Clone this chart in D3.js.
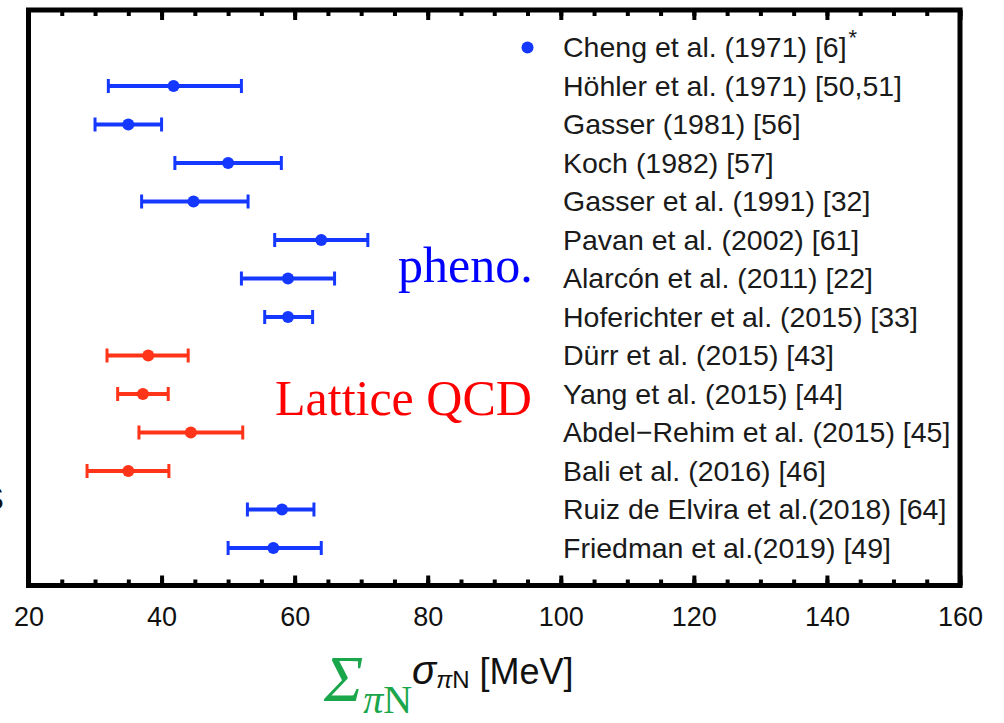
<!DOCTYPE html>
<html>
<head>
<meta charset="utf-8">
<script src="https://cdn.jsdelivr.net/npm/d3@7"></script>
<style>
  html, body { margin: 0; padding: 0; background: #fff; }
  svg { display: block; }
</style>
</head>
<body>
<svg id="chart" width="1004" height="723"></svg>
<script>
// Pion-nucleon sigma term determinations (MeV)
const studies = [
  "Cheng et al. (1971) [6]",
  "Höhler et al. (1971) [50,51]",
  "Gasser (1981) [56]",
  "Koch (1982) [57]",
  "Gasser et al. (1991) [32]",
  "Pavan et al. (2002) [61]",
  "Alarcón et al. (2011) [22]",
  "Hoferichter et al. (2015) [33]",
  "Dürr et al. (2015) [43]",
  "Yang et al. (2015) [44]",
  "Abdel\u2212Rehim et al. (2015) [45]",
  "Bali et al. (2016) [46]",
  "Ruiz de Elvira et al.(2018) [64]",
  "Friedman et al.(2019) [49]"
];
const starred = [true, false, false, false, false, false, false, false, false, false, false, false, false, false];
const centralValues = [95, 41.8, 35, 50, 44.8, 64, 59, 59, 38, 37.2, 44.4, 35, 58.1, 56.8];
const lowerValues  = [null, 32, 30, 42, 37, 57, 52, 55.5, 31.8, 33.4, 36.6, 28.8, 52.9, 50];
const upperValues  = [null, 52, 40, 58, 53, 71, 66, 62.7, 44, 41, 52.2, 41.1, 62.9, 64];
const methods = ["pheno", "pheno", "pheno", "pheno", "pheno", "pheno", "pheno", "pheno",
                 "lattice", "lattice", "lattice", "lattice", "pheno", "pheno"];
const majorTicks = [20, 40, 60, 80, 100, 120, 140, 160];
const minorTicks = d3.range(20, 160.01, 5);

const colors = { pheno: "#1438ff", lattice: "#ff3418" };

const svg = d3.select("#chart");
const frameLeft = 28.5, frameRight = 960, frameTop = 10, frameBottom = 585.5;

const x = d3.scaleLinear().domain([20, 160]).range([frameLeft, frameRight]);
const y = d3.scalePoint().domain(d3.range(studies.length)).range([47.5, 548]);

// minor + major ticks, drawn inward on top and bottom
function tickAxis(axisFn, ypos, values, len) {
  const g = svg.append("g")
    .attr("transform", `translate(0,${ypos})`)
    .call(axisFn(x).tickValues(values).tickSize(len).tickFormat(""));
  g.select(".domain").remove();
  g.selectAll(".tick line").attr("stroke", "#000").attr("stroke-width", 4);
  return g;
}
tickAxis(d3.axisBottom, frameBottom, minorTicks, -6);
tickAxis(d3.axisBottom, frameBottom, majorTicks, -10);
tickAxis(d3.axisTop, frameTop, minorTicks, -6);
tickAxis(d3.axisTop, frameTop, majorTicks, -10);

// tick labels
const lab = svg.append("g")
  .attr("transform", `translate(0,${frameBottom})`)
  .call(d3.axisBottom(x).tickValues(majorTicks).tickSize(0).tickPadding(0));
lab.select(".domain").remove();
lab.selectAll(".tick text")
  .attr("y", 40)
  .attr("dy", 0)
  .attr("font-family", "Liberation Sans, Arial, sans-serif")
  .attr("font-size", 27)
  .attr("fill", "#111");

// frame
svg.append("rect")
  .attr("x", frameLeft).attr("y", frameTop)
  .attr("width", frameRight - frameLeft).attr("height", frameBottom - frameTop)
  .attr("fill", "none").attr("stroke", "#000").attr("stroke-width", 5);

// error bars
const rows = d3.range(studies.length);
const bars = svg.append("g").selectAll("g")
  .data(rows.filter(i => lowerValues[i] !== null))
  .join("g")
  .attr("stroke", i => colors[methods[i]])
  .attr("stroke-width", 4);
bars.append("line")
  .attr("x1", i => x(lowerValues[i])).attr("x2", i => x(upperValues[i]))
  .attr("y1", i => y(i)).attr("y2", i => y(i));
bars.append("line")
  .attr("stroke-width", 3)
  .attr("x1", i => x(lowerValues[i])).attr("x2", i => x(lowerValues[i]))
  .attr("y1", i => y(i) - 7).attr("y2", i => y(i) + 7);
bars.append("line")
  .attr("stroke-width", 3)
  .attr("x1", i => x(upperValues[i])).attr("x2", i => x(upperValues[i]))
  .attr("y1", i => y(i) - 7).attr("y2", i => y(i) + 7);

// central values
svg.append("g").selectAll("circle")
  .data(rows)
  .join("circle")
  .attr("cx", i => x(centralValues[i]))
  .attr("cy", i => y(i))
  .attr("r", 6)
  .attr("fill", i => colors[methods[i]]);

// study labels
const labels = svg.append("g").selectAll("text")
  .data(rows)
  .join("text")
  .attr("x", 563)
  .attr("y", i => y(i) + 9.5)
  .attr("font-family", "Liberation Sans, Arial, sans-serif")
  .attr("font-size", 28.5)
  .attr("fill", "#1a1a1a")
  .text(i => studies[i]);
labels.filter(i => starred[i])
  .append("tspan")
  .attr("dx", 2)
  .attr("dy", -12)
  .attr("font-size", 22)
  .text("*");

// group annotations
svg.append("text")
  .attr("x", 398).attr("y", 282)
  .attr("font-family", "Liberation Serif, Times New Roman, serif")
  .attr("font-size", 50)
  .attr("fill", "#0000ff")
  .text("pheno.");
svg.append("text")
  .attr("x", 275).attr("y", 415)
  .attr("font-family", "Liberation Serif, Times New Roman, serif")
  .attr("font-size", 50)
  .attr("fill", "#ff0000")
  .text("Lattice QCD");

// axis title
const title = svg.append("text")
  .attr("x", 412).attr("y", 684)
  .attr("font-family", "Liberation Sans, Arial, sans-serif")
  .attr("font-size", 36)
  .attr("fill", "#111");
title.append("tspan").attr("font-style", "italic").attr("font-size", 40).text("σ");
title.append("tspan").attr("font-size", 24).attr("dy", 4).attr("font-style", "italic").text("π");
title.append("tspan").attr("font-size", 24).text("N");
title.append("tspan").attr("dy", -4).text(" [MeV]");

// green symbol
const sym = svg.append("text")
  .attr("x", 324).attr("y", 701)
  .attr("font-family", "Liberation Serif, Times New Roman, serif")
  .attr("font-size", 66)
  .attr("fill", "#1aa64a");
sym.append("tspan").attr("font-style", "italic").text("Σ");
sym.append("tspan").attr("font-size", 40).attr("dy", 12).attr("font-style", "italic").text("π");
sym.append("tspan").attr("font-size", 40).text("N");

// clipped glyph at the left edge
svg.append("text")
  .attr("x", 4).attr("y", 510)
  .attr("text-anchor", "end")
  .attr("font-family", "Liberation Sans, Arial, sans-serif")
  .attr("font-size", 34)
  .attr("fill", "#111")
  .text("S");
</script>
</body>
</html>
